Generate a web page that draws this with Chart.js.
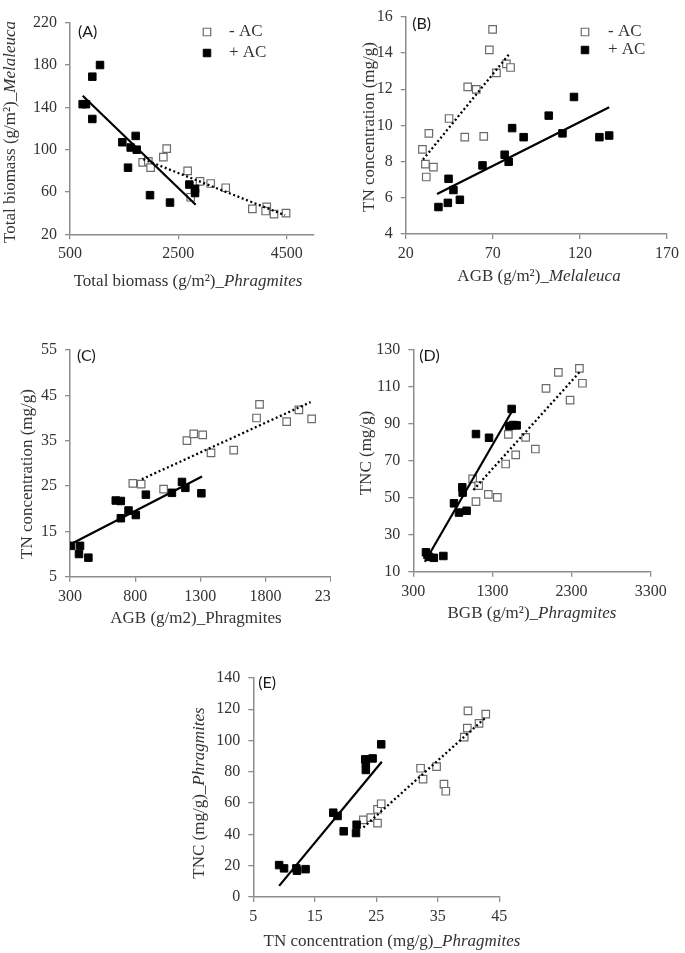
<!DOCTYPE html>
<html>
<head>
<meta charset="utf-8">
<script src="https://cdn.jsdelivr.net/npm/chart.js@4.4.1/dist/chart.umd.min.js"></script>
<style>
  html, body { margin: 0; padding: 0; background: #ffffff; }
  #wrap { position: relative; width: 685px; height: 953px; overflow: hidden; background: #fff; }
  .panel { position: absolute; overflow: hidden; }
  canvas { display: block; }
</style>
</head>
<body>
<div id="wrap">
  <div class="panel" style="left:0px;top:0px;width:340px;height:300px"><canvas id="cA" width="340" height="300"></canvas></div>
  <div class="panel" style="left:340px;top:0px;width:345px;height:300px"><canvas id="cB" width="345" height="300"></canvas></div>
  <div class="panel" style="left:0px;top:300px;width:331px;height:340px"><canvas id="cC" width="360" height="340"></canvas></div>
  <div class="panel" style="left:340px;top:300px;width:345px;height:340px"><canvas id="cD" width="345" height="340"></canvas></div>
  <div class="panel" style="left:180px;top:620px;width:345px;height:333px"><canvas id="cE" width="345" height="333"></canvas></div>
</div>
<script>
// ================= DATA =================
const legendLabels = ['- AC', '+ AC'];

// (A) Total biomass Phragmites vs Melaleuca
const aXRange = [500, 5000];
const aYRange = [20, 220];
const aXTicks = [500, 2500, 4500];
const aYTicks = [20, 60, 100, 140, 180, 220];
const aOpen = [[1842,88],[1946,89],[1988,83],[2223,93],[2285,101],[2672,80],[2728,55],[2900,70],[3097,68],[3374,64],[3866,44],[4131,46],[4112,42],[4266,39],[4488,40]];
const aFilled = [[734,143],[795,143],[912,169],[1054,180],[912,129],[1466,107],[1620,102],[1712,113],[1731,100],[1571,83],[1977,57],[2346,50],[2703,67],[2808,63],[2808,59]];
const aFitOpen = [[1854,91],[4469,38]];
const aFitFilled = [[734,151],[2820,48]];

// (B) AGB Melaleuca vs TN concentration
const bXRange = [20, 170];
const bYRange = [4, 16];
const bXTicks = [20, 70, 120, 170];
const bYTicks = [4, 6, 8, 10, 12, 14, 16];
const bOpen = [[29.6,8.68],[33.3,9.56],[31.3,7.86],[31.8,7.15],[35.9,7.7],[44.9,10.38],[53.9,9.35],[55.6,12.13],[60.5,11.99],[64.8,9.39],[68,14.17],[69.9,15.31],[72.1,12.9],[77.8,13.4],[80.2,13.2]];
const bFilled = [[38.8,5.49],[44.2,5.72],[44.6,7.05],[47.4,6.43],[51.1,5.89],[64.1,7.79],[76.8,8.38],[79.1,7.99],[81.1,9.85],[87.7,9.35],[102.1,10.54],[110,9.56],[116.6,11.57],[131.2,9.35],[136.8,9.44]];
const bFitOpen = [[29.9,8.11],[79.6,13.96]];
const bFitFilled = [[38,6.21],[136.8,11.0]];

// (C) AGB Phragmites vs TN concentration
const cXRange = [300, 2300];
const cYRange = [5, 55];
const cXTicks = [300, 800, 1300, 1800, 2300];
const cYTicks = [5, 15, 25, 35, 45, 55];
const cOpen = [[782,25.6],[846,25.4],[1018,24.3],[1197,35],[1249,36.5],[1318,36.3],[1382,32.3],[1556,32.9],[1731,40],[1754,43],[1962,39.2],[2056,41.8],[2154,39.8]];
const cFilled = [[308,11.8],[377,11.8],[369,10],[441,9.2],[651,21.8],[690,21.7],[690,17.9],[749,19.6],[805,18.6],[882,23.1],[1082,23.5],[1159,25.9],[1185,24.6],[1308,23.4]];
const cFitOpen = [[851,26.5],[2146,43.5]];
const cFitFilled = [[308,12.2],[1313,27.1]];

// (D) BGB Phragmites vs TNC
const dXRange = [300, 3300];
const dYRange = [10, 130];
const dXTicks = [300, 1300, 2300, 3300];
const dYTicks = [10, 30, 50, 70, 90, 110, 130];
const dOpen = [[1050,60.2],[1092,47.9],[1126,56.6],[1248,51.9],[1362,50.2],[1467,68.3],[1501,84.3],[1594,73.2],[1720,82.7],[1842,76.4],[1977,109.2],[2133,117.9],[2281,102.9],[2399,120.1],[2437,112]];
const dFilled = [[460,20.5],[480,19],[500,18],[560,17.5],[680,18.5],[814,47],[877,42],[919,55.7],[924,52.8],[974,43],[1092,84.5],[1257,82.5],[1514,88.9],[1543,98.1],[1564,89.4],[1606,89.2]];
const dFitOpen = [[1059,54.2],[2407,118.3]];
const dFitFilled = [[447,15.4],[1556,97.5]];

// (E) TN concentration vs TNC, Phragmites
const eXRange = [5, 45];
const eYRange = [0, 140];
const eXTicks = [5, 15, 25, 35, 45];
const eYTicks = [0, 20, 40, 60, 80, 100, 120, 140];
const eOpen = [[22.9,49.3],[24.1,50.8],[25.2,47.2],[25.2,56.0],[25.8,59.6],[32.2,82.3],[32.6,75.4],[34.8,83.3],[36.0,72.2],[36.3,67.6],[39.3,102.2],[39.8,107.9],[39.9,119.0],[41.7,111],[42.8,116.9]];
const eFilled = [[9.2,20.4],[10.0,18.3],[12.0,18.3],[12.1,16.8],[13.5,17.8],[18.0,53.9],[18.7,51.8],[19.7,42.0],[21.7,40.9],[21.8,46.2],[23.2,88.0],[23.3,85.4],[23.3,81.2],[24.4,88.6],[25.8,97.6]];
const eFitOpen = [[22.9,44.5],[42.8,114.8]];
const eFitFilled = [[9.2,7.1],[25.9,86.5]];

// ================= STYLE / HELPERS =================
const SERIF = '"Liberation Serif", "Times New Roman", serif';
const SANS = 'Lato, "Open Sans", sans-serif';
const TXT = '#333333';
const AXIS = '#8c8c8c';
const TICK_SIZE = 16;
const TITLE_SIZE = 17;

function drawRich(ctx, parts, cx, cy) {
  const fonts = parts.map(p => (p[1] ? 'italic ' : '') + TITLE_SIZE + 'px ' + SERIF);
  let total = 0;
  const widths = parts.map((p, k) => { ctx.font = fonts[k]; const w = ctx.measureText(p[0]).width; total += w; return w; });
  let x = cx - total / 2;
  ctx.textAlign = 'left';
  ctx.textBaseline = 'middle';
  parts.forEach((p, k) => { ctx.font = fonts[k]; ctx.fillText(p[0], x, cy); x += widths[k]; });
}

const decor = {
  id: 'decor',
  afterDraw(chart, args, o) {
    const ctx = chart.ctx, ca = chart.chartArea;
    ctx.save();
    ctx.fillStyle = '#1a1a1a';
    ctx.font = '16px ' + SANS;
    ctx.textAlign = 'left';
    ctx.textBaseline = 'middle';
    ctx.fillText(o.tag, ca.left + o.tagOff[0], ca.top + o.tagOff[1]);

    ctx.fillStyle = TXT;
    drawRich(ctx, o.xTitle, o.xTitlePos[0], o.xTitlePos[1]);
    ctx.save();
    ctx.translate(o.yTitlePos[0], o.yTitlePos[1]);
    ctx.rotate(-Math.PI / 2);
    drawRich(ctx, o.yTitle, 0, 0);
    ctx.restore();

    if (o.legend) {
      const L = o.legend;
      [3, 2].forEach((di, k) => {
        const ds = chart.data.datasets[di];
        const my = L.y[k];
        const s = 7.5;
        ctx.lineWidth = ds.borderWidth;
        ctx.fillStyle = ds.backgroundColor;
        ctx.strokeStyle = ds.borderColor;
        ctx.beginPath();
        ctx.rect(L.mx - s / 2, my - s / 2, s, s);
        ctx.fill();
        ctx.stroke();
        ctx.fillStyle = TXT;
        ctx.font = TITLE_SIZE + 'px ' + SERIF;
        ctx.textAlign = 'left';
        ctx.textBaseline = 'middle';
        ctx.fillText(ds.label, L.tx, my);
      });
    }
    ctx.restore();
  }
};

function pts(a) { return a.map(p => ({ x: p[0], y: p[1] })); }

function axis(range, tickVals, fitFn, pad) {
  return {
    type: 'linear',
    min: range[0],
    max: range[1],
    afterBuildTicks: s => { s.ticks = tickVals.map(v => ({ value: v })); },
    afterFit: fitFn,
    grid: { drawOnChartArea: false, color: AXIS, lineWidth: 1.3, tickLength: 5 },
    border: { display: true, color: AXIS, width: 1.5 },
    ticks: {
      color: TXT,
      font: { family: SERIF, size: TICK_SIZE, lineHeight: 1.1 },
      padding: pad,
      maxRotation: 0,
      autoSkip: false,
      callback: v => String(v)
    }
  };
}

function makePanel(id, c) {
  const datasets = [
    { label: 'fit ' + legendLabels[0], data: pts(c.fitOpen), showLine: true, borderColor: '#000', borderWidth: 2.3, borderDash: [2, 2.6], pointRadius: 0, fill: false },
    { label: 'fit ' + legendLabels[1], data: pts(c.fitFilled), showLine: true, borderColor: '#000', borderWidth: 2.2, pointRadius: 0, fill: false },
    { label: legendLabels[1], data: pts(c.filled), pointStyle: 'rect', pointRadius: 5.3, backgroundColor: '#000000', borderColor: '#000000', borderWidth: 1 },
    { label: legendLabels[0], data: pts(c.open), pointStyle: 'rect', pointRadius: 5.3, backgroundColor: '#ffffff', borderColor: '#6b6b6b', borderWidth: 1.2 }
  ];
  const canvas = document.getElementById(id);
  return new Chart(canvas, {
    type: 'scatter',
    data: { datasets },
    options: {
      responsive: false,
      animation: false,
      events: [],
      layout: { padding: { left: 0, top: c.box.top, right: canvas.width - c.box.right, bottom: 0 } },
      plugins: {
        legend: { display: false },
        tooltip: { enabled: false },
        decor: c.decor
      },
      scales: {
        x: axis(c.xRange, c.xTicks, s => { s.height = canvas.height - c.box.bottom; }, 6),
        y: axis(c.yRange, c.yTicks, s => { s.width = c.box.left; }, 8)
      }
    },
    plugins: [decor]
  });
}

makePanel('cA', {
  xRange: aXRange, yRange: aYRange, xTicks: aXTicks, yTicks: aYTicks,
  open: aOpen, filled: aFilled, fitOpen: aFitOpen, fitFilled: aFitFilled,
  box: { left: 70, top: 22.7, right: 313.8, bottom: 234.3 },
  decor: {
    tag: '(A)', tagOff: [8, 9.5],
    xTitle: [['Total biomass (g/m²)_', 0], ['Phragmites', 1]], xTitlePos: [188, 282],
    yTitle: [['Total biomass (g/m²)_', 0], ['Melaleuca', 1]], yTitlePos: [11, 132],
    legend: { mx: 207, tx: 229, y: [32, 53] }
  }
});

makePanel('cB', {
  xRange: bXRange, yRange: bYRange, xTicks: bXTicks, yTicks: bYTicks,
  open: bOpen, filled: bFilled, fitOpen: bFitOpen, fitFilled: bFitFilled,
  box: { left: 65.7, top: 8.3, right: 332.3, bottom: 234 },
  decor: {
    tag: '(B)', tagOff: [6.5, 7],
    xTitle: [['AGB (g/m²)_', 0], ['Melaleuca', 1]], xTitlePos: [199, 277],
    yTitle: [['TN concentration (mg/g)', 0]], yTitlePos: [30, 127],
    legend: { mx: 245, tx: 268, y: [32, 50] }
  }
});

makePanel('cC', {
  xRange: cXRange, yRange: cYRange, xTicks: cXTicks, yTicks: cYTicks,
  open: cOpen, filled: cFilled, fitOpen: cFitOpen, fitFilled: cFitFilled,
  box: { left: 70, top: 50, right: 330.7, bottom: 276.7 },
  decor: {
    tag: '(C)', tagOff: [7, 5.5],
    xTitle: [['AGB (g/m2)_Phragmites', 0]], xTitlePos: [196, 319],
    yTitle: [['TN concentration (mg/g)', 0]], yTitlePos: [28, 174],
    legend: null
  }
});

makePanel('cD', {
  xRange: dXRange, yRange: dYRange, xTicks: dXTicks, yTicks: dYTicks,
  open: dOpen, filled: dFilled, fitOpen: dFitOpen, fitFilled: dFitFilled,
  box: { left: 73.3, top: 50, right: 310.7, bottom: 271.7 },
  decor: {
    tag: '(D)', tagOff: [6, 6],
    xTitle: [['BGB (g/m²)_', 0], ['Phragmites', 1]], xTitlePos: [192, 314],
    yTitle: [['TNC (mg/g)', 0]], yTitlePos: [27, 153],
    legend: null
  }
});

makePanel('cE', {
  xRange: eXRange, yRange: eYRange, xTicks: eXTicks, yTicks: eYTicks,
  open: eOpen, filled: eFilled, fitOpen: eFitOpen, fitFilled: eFitFilled,
  box: { left: 73.3, top: 58, right: 319.3, bottom: 277 },
  decor: {
    tag: '(E)', tagOff: [5, 5],
    xTitle: [['TN concentration (mg/g)_', 0], ['Phragmites', 1]], xTitlePos: [212, 321.5],
    yTitle: [['TNC (mg/g)_', 0], ['Phragmites', 1]], yTitlePos: [20, 173],
    legend: null
  }
});
</script>
</body>
</html>
